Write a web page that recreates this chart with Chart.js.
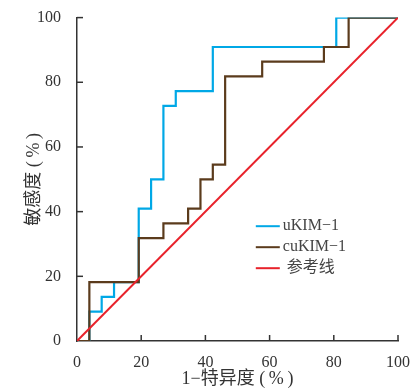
<!DOCTYPE html>
<html>
<head>
<meta charset="utf-8">
<script src="https://cdn.jsdelivr.net/npm/chart.js@4.4.0/dist/chart.umd.min.js"></script>
<style>
  html, body { margin: 0; padding: 0; background: #fff; }
</style>
</head>
<body>
<canvas id="rocChart" width="414" height="389"></canvas>
<script>
// ROC vertices (1-specificity %, sensitivity %)
const uKimFpr = [0, 3.85, 7.69, 11.54, 19.23, 23.08, 26.92, 30.77, 42.31, 80.77, 100];
const uKimTpr = [0, 9.09, 13.64, 18.18, 40.91, 50, 72.73, 77.27, 90.91, 100, 100];
const cuKimFpr = [0, 3.85, 19.23, 26.92, 34.62, 38.46, 42.31, 46.15, 57.69, 76.92, 84.62, 100];
const cuKimTpr = [0, 18.18, 31.82, 36.36, 40.91, 50, 54.55, 81.82, 86.36, 90.91, 100, 100];
const refFpr = [0, 100];
const refTpr = [0, 100];
const seriesNames = ['uKIM\u22121', 'cuKIM\u22121', '参考线'];
const seriesColors = ['#00a8e6', '#5b3b1c', '#e8222b'];
const tickValues = [0, 20, 40, 60, 80, 100];

const serif = "'Liberation Serif', 'Noto Sans CJK SC', serif";

function toPoints(xs, ys) {
  return xs.map((x, i) => ({ x: x, y: ys[i] }));
}

// Inward tick marks on both axes
const innerTicks = {
  id: 'innerTicks',
  afterDraw(chart) {
    const ctx = chart.ctx;
    const xs = chart.scales.x, ys = chart.scales.y;
    const area = chart.chartArea;
    ctx.save();
    ctx.strokeStyle = '#333';
    ctx.lineWidth = 1.5;
    tickValues.forEach(v => {
      if (v === 0) return;
      const px = xs.getPixelForValue(v);
      ctx.beginPath();
      ctx.moveTo(px, area.bottom);
      ctx.lineTo(px, area.bottom - 6);
      ctx.stroke();
      const py = ys.getPixelForValue(v);
      ctx.beginPath();
      ctx.moveTo(area.left, py);
      ctx.lineTo(area.left + 6, py);
      ctx.stroke();
    });
    ctx.restore();
  }
};

// Legend drawn inside the plot area
const innerLegend = {
  id: 'innerLegend',
  afterDraw(chart) {
    const ctx = chart.ctx;
    const area = chart.chartArea;
    const x0 = area.left + 0.557 * (area.right - area.left);
    const y0 = area.top + 0.645 * (area.bottom - area.top);
    ctx.save();
    ctx.font = '16px ' + serif;
    ctx.textBaseline = 'middle';
    seriesNames.forEach((name, i) => {
      const y = y0 + i * 21;
      ctx.strokeStyle = seriesColors[i];
      ctx.lineWidth = 2;
      ctx.beginPath();
      ctx.moveTo(x0, y);
      ctx.lineTo(x0 + 24, y);
      ctx.stroke();
      ctx.fillStyle = '#444';
      ctx.fillText(name, x0 + 27 + (i === 2 ? 4 : 0), y);
    });
    ctx.restore();
  }
};

const ctx = document.getElementById('rocChart').getContext('2d');
new Chart(ctx, {
  type: 'line',
  data: {
    datasets: [
      {
        label: seriesNames[2],
        data: toPoints(refFpr, refTpr),
        borderColor: seriesColors[2],
        borderWidth: 2,
        pointRadius: 0,
        order: 0
      },
      {
        label: seriesNames[1],
        data: toPoints(cuKimFpr, cuKimTpr),
        borderColor: seriesColors[1],
        borderWidth: 2.2,
        pointRadius: 0,
        stepped: 'before',
        order: 1
      },
      {
        label: seriesNames[0],
        data: toPoints(uKimFpr, uKimTpr),
        borderColor: seriesColors[0],
        borderWidth: 2.2,
        pointRadius: 0,
        stepped: 'before',
        order: 2
      }
    ]
  },
  options: {
    responsive: false,
    animation: false,
    layout: { padding: { top: 17, right: 14, left: 0, bottom: 0 } },
    plugins: {
      legend: { display: false },
      tooltip: { enabled: false }
    },
    scales: {
      x: {
        type: 'linear',
        min: 0,
        max: 100,
        afterBuildTicks: s => { s.ticks = tickValues.map(v => ({ value: v })); },
        afterFit: s => { s.height = 48; },
        grid: { display: false },
        border: { display: true, color: '#333', width: 1.5 },
        ticks: { color: '#333', font: { family: serif, size: 16 }, padding: 4, maxRotation: 0 },
        title: {
          display: true,
          text: '1\u2212特异度 (\u2009%\u2009)',
          color: '#333',
          font: { family: serif, size: 18 },
          padding: { top: 0, bottom: -1 }
        }
      },
      y: {
        type: 'linear',
        min: 0,
        max: 100,
        afterBuildTicks: s => { s.ticks = tickValues.map(v => ({ value: v })); },
        afterFit: s => { s.width = 77; },
        grid: { display: false },
        border: { display: true, color: '#333', width: 1.5 },
        ticks: { color: '#333', font: { family: serif, size: 16 }, padding: 8 },
        title: {
          display: true,
          text: '敏感度 (\u2009%\u2009)',
          color: '#333',
          font: { family: serif, size: 18 },
          padding: { top: 23, bottom: 0 }
        }
      }
    }
  },
  plugins: [innerTicks, innerLegend]
});
</script>
</body>
</html>
